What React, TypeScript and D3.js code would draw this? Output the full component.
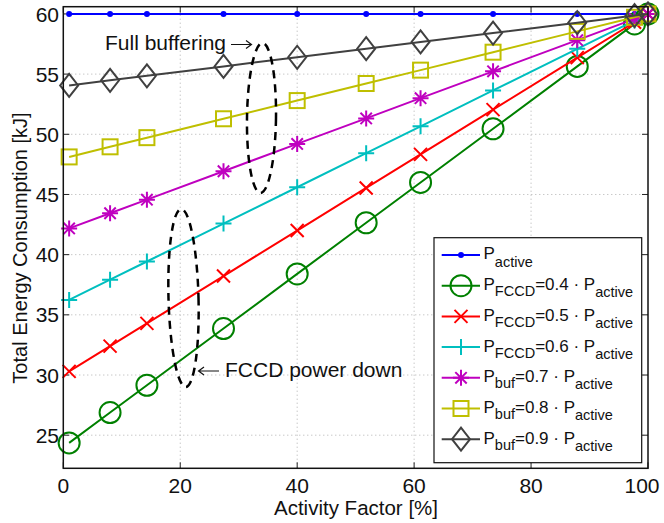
import React from "react";
import * as d3 from "d3";

const activity = [1, 8, 14.3, 27.4, 40, 51.8, 61.1, 73.5, 87.9, 97.7, 100];
const pActive = [60, 60, 60, 60, 60, 60, 60, 60, 60, 60, 60];
const fccd04 = [24.36, 26.88, 29.15, 33.86, 38.4, 42.65, 46.0, 50.46, 55.64, 59.17, 60];
const fccd05 = [30.3, 32.4, 34.29, 38.22, 42.0, 45.54, 48.33, 52.05, 56.37, 59.31, 60];
const fccd06 = [36.24, 37.92, 39.43, 42.58, 45.6, 48.43, 50.66, 53.64, 57.1, 59.45, 60];
const buf07 = [42.18, 43.44, 44.57, 46.93, 49.2, 51.32, 53.0, 55.23, 57.82, 59.59, 60];
const buf08 = [48.12, 48.96, 49.72, 51.29, 52.8, 54.22, 55.33, 56.82, 58.55, 59.72, 60];
const buf09 = [54.06, 54.48, 54.86, 55.64, 56.4, 57.11, 57.67, 58.41, 59.27, 59.86, 60];

const xTicks = [0, 20, 40, 60, 80, 100];
const yTicks = [25, 30, 35, 40, 45, 50, 55, 60];

type Marker = "dot" | "circle" | "x" | "plus" | "star" | "square" | "diamond";
const seriesList: { values: number[]; color: string; marker: Marker; sub: string; coef: string }[] = [
  { values: pActive, color: "#0000ff", marker: "dot", sub: "active", coef: "" },
  { values: fccd04, color: "#008000", marker: "circle", sub: "FCCD", coef: "0.4" },
  { values: fccd05, color: "#ff0000", marker: "x", sub: "FCCD", coef: "0.5" },
  { values: fccd06, color: "#00bfbf", marker: "plus", sub: "FCCD", coef: "0.6" },
  { values: buf07, color: "#bf00bf", marker: "star", sub: "buf", coef: "0.7" },
  { values: buf08, color: "#bfbf00", marker: "square", sub: "buf", coef: "0.8" },
  { values: buf09, color: "#404040", marker: "diamond", sub: "buf", coef: "0.9" },
];

const W = 664, H = 523;
const left = 63.3, right = 648, top = 6.7, bottom = 468.3;
const FONT = "'Liberation Sans', Arial, Helvetica, sans-serif";

function MarkerShape({ type, x, y, color }: { type: Marker; x: number; y: number; color: string }) {
  const sw = 2;
  switch (type) {
    case "dot":
      return <circle cx={x} cy={y} r={3} fill={color} />;
    case "circle":
      return <circle cx={x} cy={y} r={10.5} fill="none" stroke={color} strokeWidth={sw} />;
    case "x": {
      const s = 6.5;
      return (
        <path d={`M${x - s},${y - s}L${x + s},${y + s}M${x - s},${y + s}L${x + s},${y - s}`} stroke={color} strokeWidth={sw} />
      );
    }
    case "plus": {
      const s = 8;
      return <path d={`M${x - s},${y}L${x + s},${y}M${x},${y - s}L${x},${y + s}`} stroke={color} strokeWidth={sw} />;
    }
    case "star": {
      const s = 8, d = 5.7;
      return (
        <path
          d={`M${x - s},${y}L${x + s},${y}M${x},${y - s}L${x},${y + s}M${x - d},${y - d}L${x + d},${y + d}M${x - d},${y + d}L${x + d},${y - d}`}
          stroke={color}
          strokeWidth={sw}
        />
      );
    }
    case "square": {
      const s = 7.5;
      return <rect x={x - s} y={y - s} width={2 * s} height={2 * s} fill="none" stroke={color} strokeWidth={sw} />;
    }
    case "diamond": {
      const sx = 9, sy = 11.5;
      return (
        <path d={`M${x},${y - sy}L${x + sx},${y}L${x},${y + sy}L${x - sx},${y}Z`} fill="none" stroke={color} strokeWidth={sw} />
      );
    }
  }
  return null;
}

export default function App() {
  const xScale = d3.scaleLinear().domain([0, 100]).range([left, right]);
  const yScale = d3.scaleLinear().domain([22.25, 60.6]).range([bottom, top]);
  const line = d3
    .line<number>()
    .x((_, i) => xScale(activity[i]))
    .y((d) => yScale(d));

  const legX = 434, legY = 237.7, legW = 207.7, legH = 225;
  const rowH = 30.7;
  const row0 = 255;

  return (
    <svg width={W} height={H} style={{ position: "absolute", left: 0, top: 0, background: "#fff" }} fontFamily={FONT}>
      <rect x={0} y={0} width={W} height={H} fill="#fff" />
      {/* grid */}
      {xTicks.slice(1, -1).map((t) => (
        <line key={"gx" + t} x1={xScale(t)} x2={xScale(t)} y1={top} y2={bottom} stroke="#b0b0b0" strokeWidth={1} strokeDasharray="1,3" />
      ))}
      {yTicks.map((t) => (
        <line key={"gy" + t} x1={left} x2={right} y1={yScale(t)} y2={yScale(t)} stroke="#b0b0b0" strokeWidth={1} strokeDasharray="1,3" />
      ))}
      {/* ticks */}
      {xTicks.map((t) => (
        <g key={"tx" + t}>
          <line x1={xScale(t)} x2={xScale(t)} y1={bottom} y2={bottom - 6} stroke="#222" strokeWidth={1} />
          <line x1={xScale(t)} x2={xScale(t)} y1={top} y2={top + 6} stroke="#222" strokeWidth={1} />
          <text x={t === 100 ? xScale(t) - 6 : xScale(t)} y={492.7} fontSize={21} textAnchor="middle" fill="#111">
            {t}
          </text>
        </g>
      ))}
      {yTicks.map((t) => (
        <g key={"ty" + t}>
          <line x1={left} x2={left + 6} y1={yScale(t)} y2={yScale(t)} stroke="#222" strokeWidth={1} />
          <line x1={right} x2={right - 6} y1={yScale(t)} y2={yScale(t)} stroke="#222" strokeWidth={1} />
          <text x={59} y={yScale(t) + 7.6} fontSize={21} textAnchor="end" fill="#111">
            {t}
          </text>
        </g>
      ))}
      {/* series */}
      {seriesList.map((s, si) => (
        <g key={"s" + si}>
          <path d={line(s.values) || ""} fill="none" stroke={s.color} strokeWidth={2} />
          {s.values.map((v, i) => (
            <MarkerShape key={i} type={s.marker} x={xScale(activity[i])} y={yScale(v)} color={s.color} />
          ))}
        </g>
      ))}
      {/* frame */}
      <rect x={left} y={top} width={right - left} height={bottom - top} fill="none" stroke="#111" strokeWidth={1.5} />
      {/* annotations */}
      <text x={105} y={50} fontSize={21} fill="#111">
        Full buffering
      </text>
      <path d="M231,44.5L251,44.5M246,40.5L251.5,44.5L246,48.5" fill="none" stroke="#111" strokeWidth={1.2} />
      <ellipse cx={261.5} cy={118} rx={14.5} ry={75} fill="none" stroke="#000" strokeWidth={2.5} strokeDasharray="8,6" transform="rotate(0.8 261.5 118)" />
      <ellipse cx={183.5} cy={298} rx={15} ry={89} fill="none" stroke="#000" strokeWidth={2.5} strokeDasharray="8,6" transform="rotate(-1.5 183.5 298)" />
      <path d="M199,371L219,371M204,367L198.5,371L204,375" fill="none" stroke="#111" strokeWidth={1.2} />
      <text x={225} y={377.3} fontSize={21} fill="#111">
        FCCD power down
      </text>
      {/* axis labels */}
      <text x={356} y={515} fontSize={20.5} textAnchor="middle" fill="#111">
        Activity Factor [%]
      </text>
      <text transform={`translate(27, 248) rotate(-90)`} fontSize={20} textAnchor="middle" fill="#111">
        Total Energy Consumption [kJ]
      </text>
      {/* legend */}
      <rect x={legX} y={legY} width={legW} height={legH} fill="#fff" stroke="#111" strokeWidth={1.2} />
      {seriesList.map((s, i) => {
        const cy = row0 + i * rowH;
        return (
          <g key={"lg" + i}>
            <line x1={441.7} x2={480} y1={cy} y2={cy} stroke={s.color} strokeWidth={2} />
            <MarkerShape type={s.marker} x={461} y={cy} color={s.color} />
            {i === 0 ? (
              <text x={483.5} y={cy + 3.5} fontSize={17} fill="#111">
                P
                <tspan fontSize={14.5} dy={8.4}>active</tspan>
              </text>
            ) : (
              <text x={483.5} y={cy + 4.5} fontSize={17} fill="#111">
                P
                <tspan fontSize={14.5} dy={6}>{s.sub}</tspan>
                <tspan dy={-6}>{`=${s.coef} · P`}</tspan>
                <tspan fontSize={14.5} dy={7}>active</tspan>
              </text>
            )}
          </g>
        );
      })}
    </svg>
  );
}
